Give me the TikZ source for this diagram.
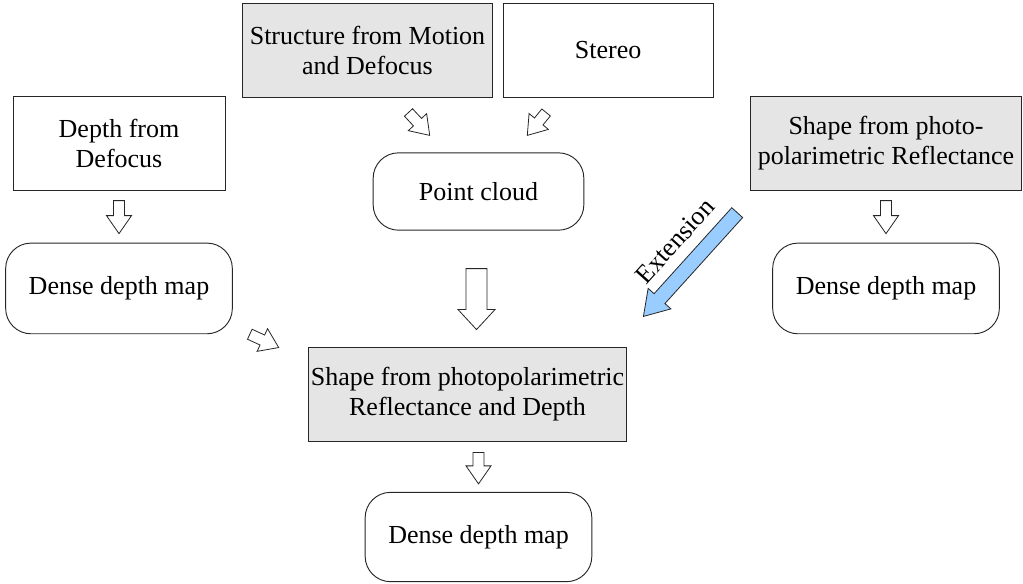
\documentclass[tikz,border=0pt]{standalone}
\usepackage{fontspec}
\setmainfont{Liberation Serif}
\usetikzlibrary{calc, positioning}

\definecolor{extblue}{RGB}{153,204,255}

\tikzset{
  fat/.style n args={3}{to path={
    let \p1=(\tikztostart), \p2=(\tikztotarget),
        \n1={atan2(\y2-\y1,\x2-\x1)}, \n2={veclen(\x2-\x1,\y2-\y1)} in
    {[shift={(\p1)}, rotate=\n1]
     (0pt,#1/2) -- (\n2-#3,#1/2) -- (\n2-#3,#2/2) -- (\n2,0pt)
     -- (\n2-#3,-#2/2) -- (\n2-#3,-#1/2) -- (0pt,-#1/2) -- cycle}
  }},
}

\begin{document}
\begin{tikzpicture}[x=0.75pt,y=-0.75pt,
  font=\fontsize{19.5pt}{22.5pt}\selectfont]

		\tikzstyle{box}=[rectangle,draw=black!85,line width=0.7pt,align=center,inner sep=2pt]
		\tikzstyle{grey box}=[box,fill=black!10]
		\tikzstyle{result}=[box,rounded corners=19pt,minimum width=170pt,minimum height=68pt]
		\tikzstyle{small}=[draw=black!85,line width=0.6pt,fill=white,fat={8.25pt}{18.75pt}{13.5pt}]
		\tikzstyle{big}=[draw=black!85,line width=0.6pt,fill=white,fat={15.75pt}{27.75pt}{15pt}]
		\tikzstyle{extension}=[draw=black!85,line width=0.6pt,fill=extblue,fat={11pt}{23pt}{18pt}]

		\useasboundingbox (0,0) rectangle (1023,583);

		% sources
		\node [grey box, minimum width=187pt, minimum height=70.5pt] (SFM) at (367.5,50) {Structure from Motion\\and Defocus};
		\node [box, minimum width=157.5pt, minimum height=70.5pt, right=7.5pt of SFM] (ST) {Stereo};
		\node [box, minimum width=159pt, minimum height=70pt] (DFD) at (119,143.5) {Depth from\\Defocus};
		\node [grey box, minimum width=203pt, minimum height=70pt] (SFP) at (886,143.5) {Shape from photo-\\polarimetric Reflectance};

		% intermediate results
		\node [result, minimum width=158pt, minimum height=58pt] (PC) at (478.5,191.5) {Point cloud};
		\node [result, below=39pt of DFD] (DDL) {Dense depth map};
		\node [result, below=39pt of SFP] (DDR) {Dense depth map};

		% proposed method
		\node [grey box, minimum width=239pt, minimum height=70.5pt] (SFPD) at (467.5,394) {Shape from photopolarimetric\\Reflectance and Depth};
		\node [result, minimum height=67pt] (DDB) at (478.5,537) {Dense depth map};

		% arrows
		\draw [small] ([shift={(0,10)}]DFD.south) to ([shift={(0,-9)}]DFD.south |- DDL.north);
		\draw [small] ([shift={(0,10)}]SFP.south) to ([shift={(0,-9)}]DDR.north);
		\draw [small] ($(SFM.south)+(41,15)$) to ($(PC.north west)+(57,-17)$);
		\draw [small] ($(ST.south)+(-62,15)$) to ($(PC.north east)+(-57,-17)$);
		\draw [big] ($(PC.south)+(-2,38)$) to ($(SFPD.north -| PC.south)+(-2,-17)$);
		\draw [small] ($(DDL.south east)+(17,0)$) to ($(SFPD.north west)+(-29,1)$);
		\draw [small] ($(SFPD.south -| DDB.north)+(0,11)$) to ($(DDB.north)+(0,-8)$);
		\draw [extension] ($(SFP.south west)+(-13,22)$) to ($(SFPD.north east)+(16,-30)$);
		\node [rotate=48] (ext) at (675,241) {Extension};
	\end{tikzpicture}
\end{document}
